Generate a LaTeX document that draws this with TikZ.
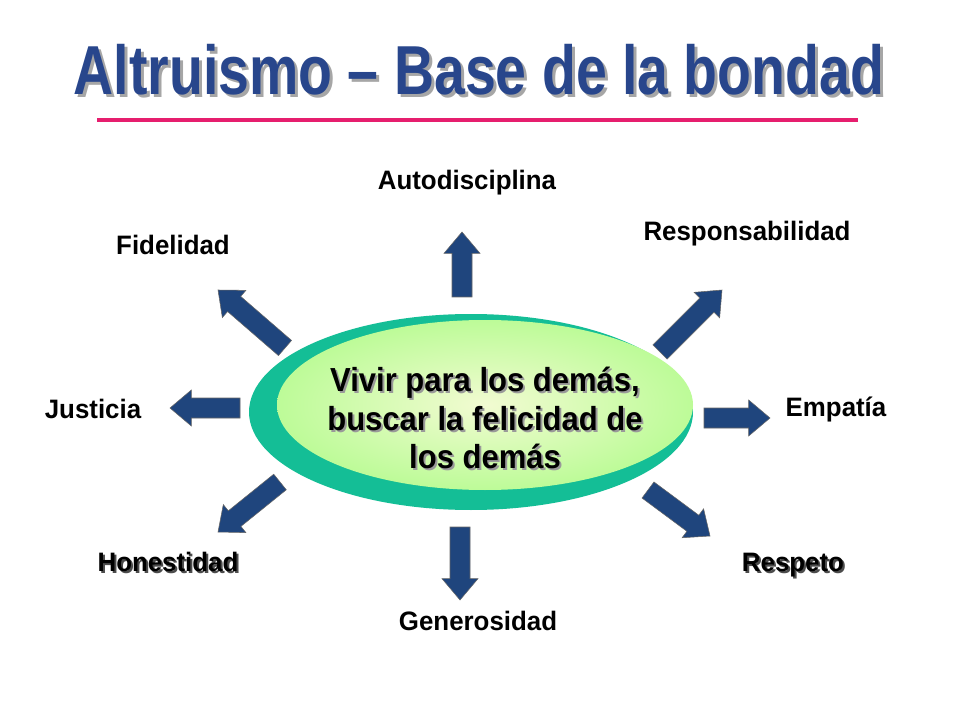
\documentclass[tikz,border=0pt]{standalone}
\usepackage{fontspec}
\setmainfont{Liberation Sans}
\usetikzlibrary{calc}
\definecolor{titleblue}{RGB}{40,70,140}
\definecolor{arrowblue}{RGB}{31,69,125}
\definecolor{rimgreen}{RGB}{20,190,150}
\definecolor{paleface}{RGB}{236,250,190}
\definecolor{linepink}{RGB}{230,30,110}
\tikzset{
  lbl/.style={font=\fontsize{20}{22}\selectfont\bfseries, xscale=0.97},
  shadowlbl/.style={lbl, text=black!70},
}
% block arrow from tail #1 to tip #2
\newcommand{\blockarrow}[2]{%
  \coordinate (ta) at (#1); \coordinate (tb) at (#2);
  \coordinate (tn) at ($(tb)!16pt!(ta)$);
  \fill[arrowblue, draw=black!60, line width=0.4pt]
    ($(ta)!7.5pt!90:(tb)$) -- ($(tn)!7.5pt!-90:(ta)$) -- ($(tn)!13.5pt!-90:(ta)$)
    -- (tb) -- ($(tn)!13.5pt!90:(ta)$) -- ($(tn)!7.5pt!90:(ta)$)
    -- ($(ta)!7.5pt!-90:(tb)$) -- cycle;}
\begin{document}
\begin{tikzpicture}[x=0.75pt,y=0.75pt,yscale=-1,xscale=1]
\useasboundingbox (0,0) rectangle (960,720);
\fill[white] (0,0) rectangle (960,720);

% title
\node[text=black!35, font=\fontsize{52}{56}\selectfont\bfseries, xscale=0.8] at (482,73) {Altruismo – Base de la bondad};
\node (title) [text=titleblue, font=\fontsize{52}{56}\selectfont\bfseries, xscale=0.8] at (479,70) {Altruismo – Base de la bondad};
\draw[linepink, line width=3.5pt] (97,120) -- (858,120);

% centre ellipse
\fill[rimgreen] (471,412) ellipse [x radius=222, y radius=98];
\shade[inner color=paleface!70!white, outer color=green!20!paleface] (485,405) ellipse [x radius=208, y radius=85];
\node[text=black!40, align=center, font=\fontsize{25}{29}\selectfont\bfseries, xscale=0.93] at (487,420) {Vivir para los demás,\\buscar la felicidad de\\los demás};
\node (centre) [align=center, font=\fontsize{25}{29}\selectfont\bfseries, xscale=0.93] at (485,418) {Vivir para los demás,\\buscar la felicidad de\\los demás};

% arrows
\blockarrow{462,297}{462,232}
\blockarrow{460,527}{460,600}
\blockarrow{240,408}{170,408}
\blockarrow{704,418}{770,418}
\blockarrow{285,348}{218,290}
\blockarrow{660,352}{722,290}
\blockarrow{280,482}{218,532}
\blockarrow{648,490}{710,536}

% labels
\node (auto) [lbl] at (467,183) {Autodisciplina};
\node (fide) [lbl] at (173,245) {Fidelidad};
\node (resp) [lbl] at (747,234) {Responsabilidad};
\node (just) [lbl] at (93,409) {Justicia};
\node (empa) [lbl] at (836,409) {Empatía};
\node (gene) [lbl] at (478,621) {Generosidad};
\node [shadowlbl] at (170,564) {Honestidad};
\node (hone) [lbl] at (168,562) {Honestidad};
\node [shadowlbl] at (795,567) {Respeto};
\node (resq) [lbl] at (793,565) {Respeto};
\end{tikzpicture}
\end{document}
